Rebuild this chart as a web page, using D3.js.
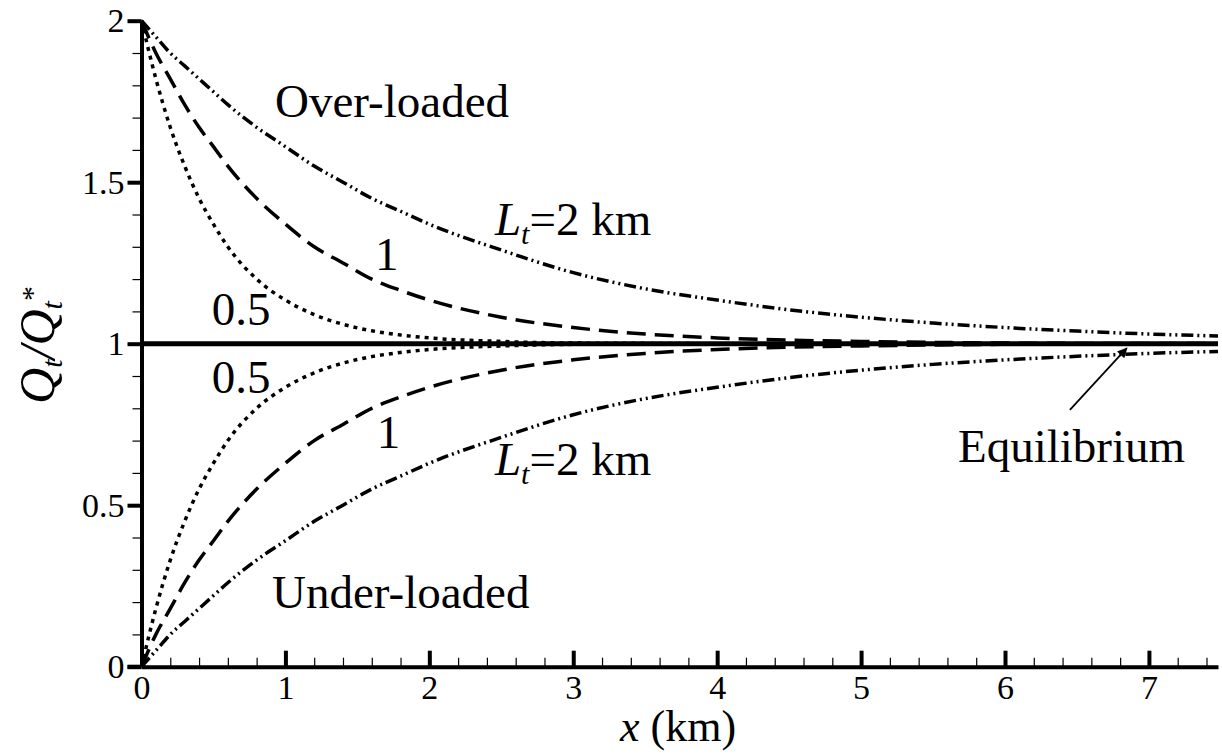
<!DOCTYPE html>
<html lang="en">
<head>
  <meta charset="UTF-8">
  <title>Q/Q* adaptation</title>
  <script src="https://d3js.org/d3.v7.min.js"></script>
  <style>
    body { margin: 0; font-family: "Liberation Serif", serif; }
  </style>
</head>
<body>
  <div class="canvas"></div>
  <script>
    const xs = [0, 0.1, 0.2, 0.3, 0.4, 0.5, 0.6, 0.8, 1.0, 1.2, 1.4, 1.6, 1.8, 2.0, 2.5, 3.0, 3.5, 4.0, 4.5, 5.0, 5.5, 6.0, 6.5, 7.0, 7.48];

    // over-loaded branch
    const over05 = [2.00, 1.82, 1.67, 1.55, 1.45, 1.37, 1.30, 1.20, 1.135, 1.09, 1.06, 1.04, 1.027, 1.018, 1.007, 1.002, 1.001, 1.0, 1.0, 1.0, 1.0, 1.0, 1.0, 1.0, 1.0];
    const over1  = [2.00, 1.90, 1.82, 1.74, 1.67, 1.61, 1.55, 1.45, 1.37, 1.30, 1.25, 1.20, 1.165, 1.135, 1.082, 1.05, 1.03, 1.018, 1.011, 1.007, 1.004, 1.002, 1.001, 1.001, 1.0];
    const over2  = [2.00, 1.95, 1.90, 1.86, 1.82, 1.78, 1.74, 1.67, 1.61, 1.55, 1.50, 1.45, 1.41, 1.37, 1.29, 1.22, 1.17, 1.135, 1.105, 1.082, 1.064, 1.05, 1.039, 1.03, 1.024];

    // under-loaded branch
    const under05 = [0, 0.18, 0.33, 0.45, 0.55, 0.63, 0.70, 0.80, 0.865, 0.91, 0.94, 0.96, 0.973, 0.982, 0.993, 0.998, 0.999, 1.0, 1.0, 1.0, 1.0, 1.0, 1.0, 1.0, 1.0];
    const under1  = [0, 0.10, 0.18, 0.26, 0.33, 0.39, 0.45, 0.55, 0.63, 0.70, 0.75, 0.80, 0.835, 0.865, 0.918, 0.95, 0.97, 0.982, 0.989, 0.993, 0.996, 0.998, 0.999, 0.999, 1.0];
    const under2  = [0, 0.05, 0.10, 0.14, 0.18, 0.22, 0.26, 0.33, 0.39, 0.45, 0.50, 0.55, 0.59, 0.63, 0.71, 0.78, 0.83, 0.865, 0.895, 0.918, 0.936, 0.95, 0.961, 0.97, 0.976];

    const xTicks = [0, 1, 2, 3, 4, 5, 6, 7];
    const yTicks = [0, 0.5, 1, 1.5, 2];
    const equilibrium = 1;

    const width = 1222;
    const height = 754;
    const FONT = '"Liberation Serif", serif';

    // every text gets its family inline
    const serif = sel => sel.style('font-family', FONT, 'important');

    const svg = d3.select('.canvas')
                  .append('svg')
                  .attr('width', width)
                  .attr('height', height);

    const x = d3.scaleLinear().domain([0, 7.48]).range([141.5, 1218]);
    const y = d3.scaleLinear().domain([0, 2]).range([666.7, 20.7]);

    // curves
    const series = [
      { v: over05,  dash: '4,5' },
      { v: over1,   dash: '19,9' },
      { v: over2,   dash: '12,4,2,4,2,4' },
      { v: under05, dash: '4,5' },
      { v: under1,  dash: '19,9' },
      { v: under2,  dash: '12,4,2,4,2,4' }
    ];

    const line = d3.line()
                   .x(d => x(d[0]))
                   .y(d => y(d[1]))
                   .curve(d3.curveMonotoneX);

    svg.selectAll('path.curve')
       .data(series)
       .enter()
       .append('path')
       .attr('class', 'curve')
       .attr('fill', 'none')
       .attr('stroke', '#000')
       .attr('stroke-width', 3.5)
       .attr('stroke-dasharray', d => d.dash)
       .attr('d', d => line(xs.map((xv, i) => [xv, d.v[i]])));

    // equilibrium line
    svg.append('line')
       .attr('x1', x(0)).attr('x2', x(7.48))
       .attr('y1', y(equilibrium)).attr('y2', y(equilibrium))
       .attr('stroke', '#000')
       .attr('stroke-width', 5);

    // axes: minor ticks first, then major
    const xMinor = d3.range(0, 7.5, 0.2).filter(v => Math.abs(v - Math.round(v)) > 1e-6);
    const yMinor = d3.range(0, 2.0001, 0.1).filter(v => Math.abs(v * 2 - Math.round(v * 2)) > 1e-6);

    svg.append('g')
       .attr('transform', `translate(0, ${y(0)})`)
       .call(d3.axisBottom(x).tickValues(xMinor).tickSize(-9).tickFormat(''))
       .call(g => g.select('.domain').remove())
       .call(g => g.selectAll('line').attr('stroke-width', 1.2));

    svg.append('g')
       .attr('transform', `translate(${x(0)}, 0)`)
       .call(d3.axisLeft(y).tickValues(yMinor).tickSize(9).tickFormat(''))
       .call(g => g.select('.domain').remove())
       .call(g => g.selectAll('line').attr('stroke-width', 1.2));

    const xAxisG = svg.append('g')
       .attr('transform', `translate(0, ${y(0)})`)
       .call(d3.axisBottom(x).tickValues(xTicks).tickSize(-16).tickSizeOuter(0).tickPadding(8).tickFormat(d3.format('d')));
    xAxisG.attr('font-family', null);
    xAxisG.select('.domain').attr('stroke-width', 4);
    xAxisG.selectAll('.tick line').attr('stroke-width', 4);
    xAxisG.selectAll('text').call(serif).attr('font-size', 34);

    const yAxisG = svg.append('g')
       .attr('transform', `translate(${x(0)}, 0)`)
       .call(d3.axisLeft(y).tickValues(yTicks).tickSize(14).tickSizeOuter(0).tickPadding(3).tickFormat(d => d));
    yAxisG.attr('font-family', null);
    yAxisG.select('.domain').attr('stroke-width', 4);
    yAxisG.selectAll('.tick line').attr('stroke-width', 4);
    yAxisG.selectAll('text').call(serif).attr('font-size', 34);

    // x-axis line continues left to meet the y tick at 0
    svg.append('line')
       .attr('x1', x(0) - 14).attr('x2', x(0))
       .attr('y1', y(0)).attr('y2', y(0))
       .attr('stroke', '#000').attr('stroke-width', 4);

    // axis titles
    const xt = svg.append('text')
       .attr('x', 678).attr('y', 741)
       .attr('text-anchor', 'middle')
       .attr('font-size', 44)
       .call(serif);
    xt.append('tspan').style('font-style', 'italic').text('x');
    xt.append('tspan').text(' (km)');

    const yt = svg.append('text')
       .attr('transform', 'translate(54, 345) rotate(-90)')
       .attr('text-anchor', 'middle')
       .attr('font-size', 50)
       .style('font-style', 'italic')
       .call(serif);
    yt.append('tspan').text('Q');
    yt.append('tspan').attr('font-size', 30).attr('dy', 8).text('t');
    yt.append('tspan').attr('dy', -8).text('/Q');
    yt.append('tspan').attr('font-size', 30).attr('dy', 8).text('t');
    yt.append('tspan').attr('font-size', 30).style('font-style', 'normal').attr('dy', -20).text('*');

    // annotations
    const labels = [
      { t: 'Over-loaded',  x: 0.928, y: 1.702 },
      { t: 'Under-loaded', x: 0.907, y: 0.182 },
      { t: '1',            x: 1.622, y: 1.228 },
      { t: '0.5',          x: 0.488, y: 1.058 },
      { t: '0.5',          x: 0.488, y: 0.847 },
      { t: '1',            x: 1.634, y: 0.677 },
      { t: 'Equilibrium',  x: 5.673, y: 0.634 }
    ];
    svg.selectAll('text.ann')
       .data(labels)
       .enter()
       .append('text')
       .attr('class', 'ann')
       .attr('x', d => x(d.x))
       .attr('y', d => y(d.y))
       .attr('font-size', 47)
       .call(serif)
       .text(d => d.t);

    [[2.456, 1.337], [2.456, 0.593]].forEach(p => {
      const t = svg.append('text')
         .attr('x', x(p[0])).attr('y', y(p[1]))
         .attr('font-size', 47)
         .call(serif);
      t.append('tspan').style('font-style', 'italic').text('L');
      t.append('tspan').style('font-style', 'italic').attr('font-size', 30).attr('dy', 9).text('t');
      t.append('tspan').attr('dy', -9).text('=2 km');
    });

    // arrow to equilibrium line
    svg.append('defs').append('marker')
       .attr('id', 'head')
       .attr('viewBox', '0 0 10 10')
       .attr('refX', 9).attr('refY', 5)
       .attr('markerWidth', 14).attr('markerHeight', 10)
       .attr('markerUnits', 'userSpaceOnUse')
       .attr('orient', 'auto')
       .append('path')
       .attr('d', 'M0,0 L10,5 L0,10 Z')
       .attr('fill', '#000');

    svg.append('line')
       .attr('x1', x(6.451)).attr('y1', y(0.795))
       .attr('x2', x(6.846)).attr('y2', y(0.986))
       .attr('stroke', '#000')
       .attr('stroke-width', 1.8)
       .attr('marker-end', 'url(#head)');
  </script>
</body>
</html>
